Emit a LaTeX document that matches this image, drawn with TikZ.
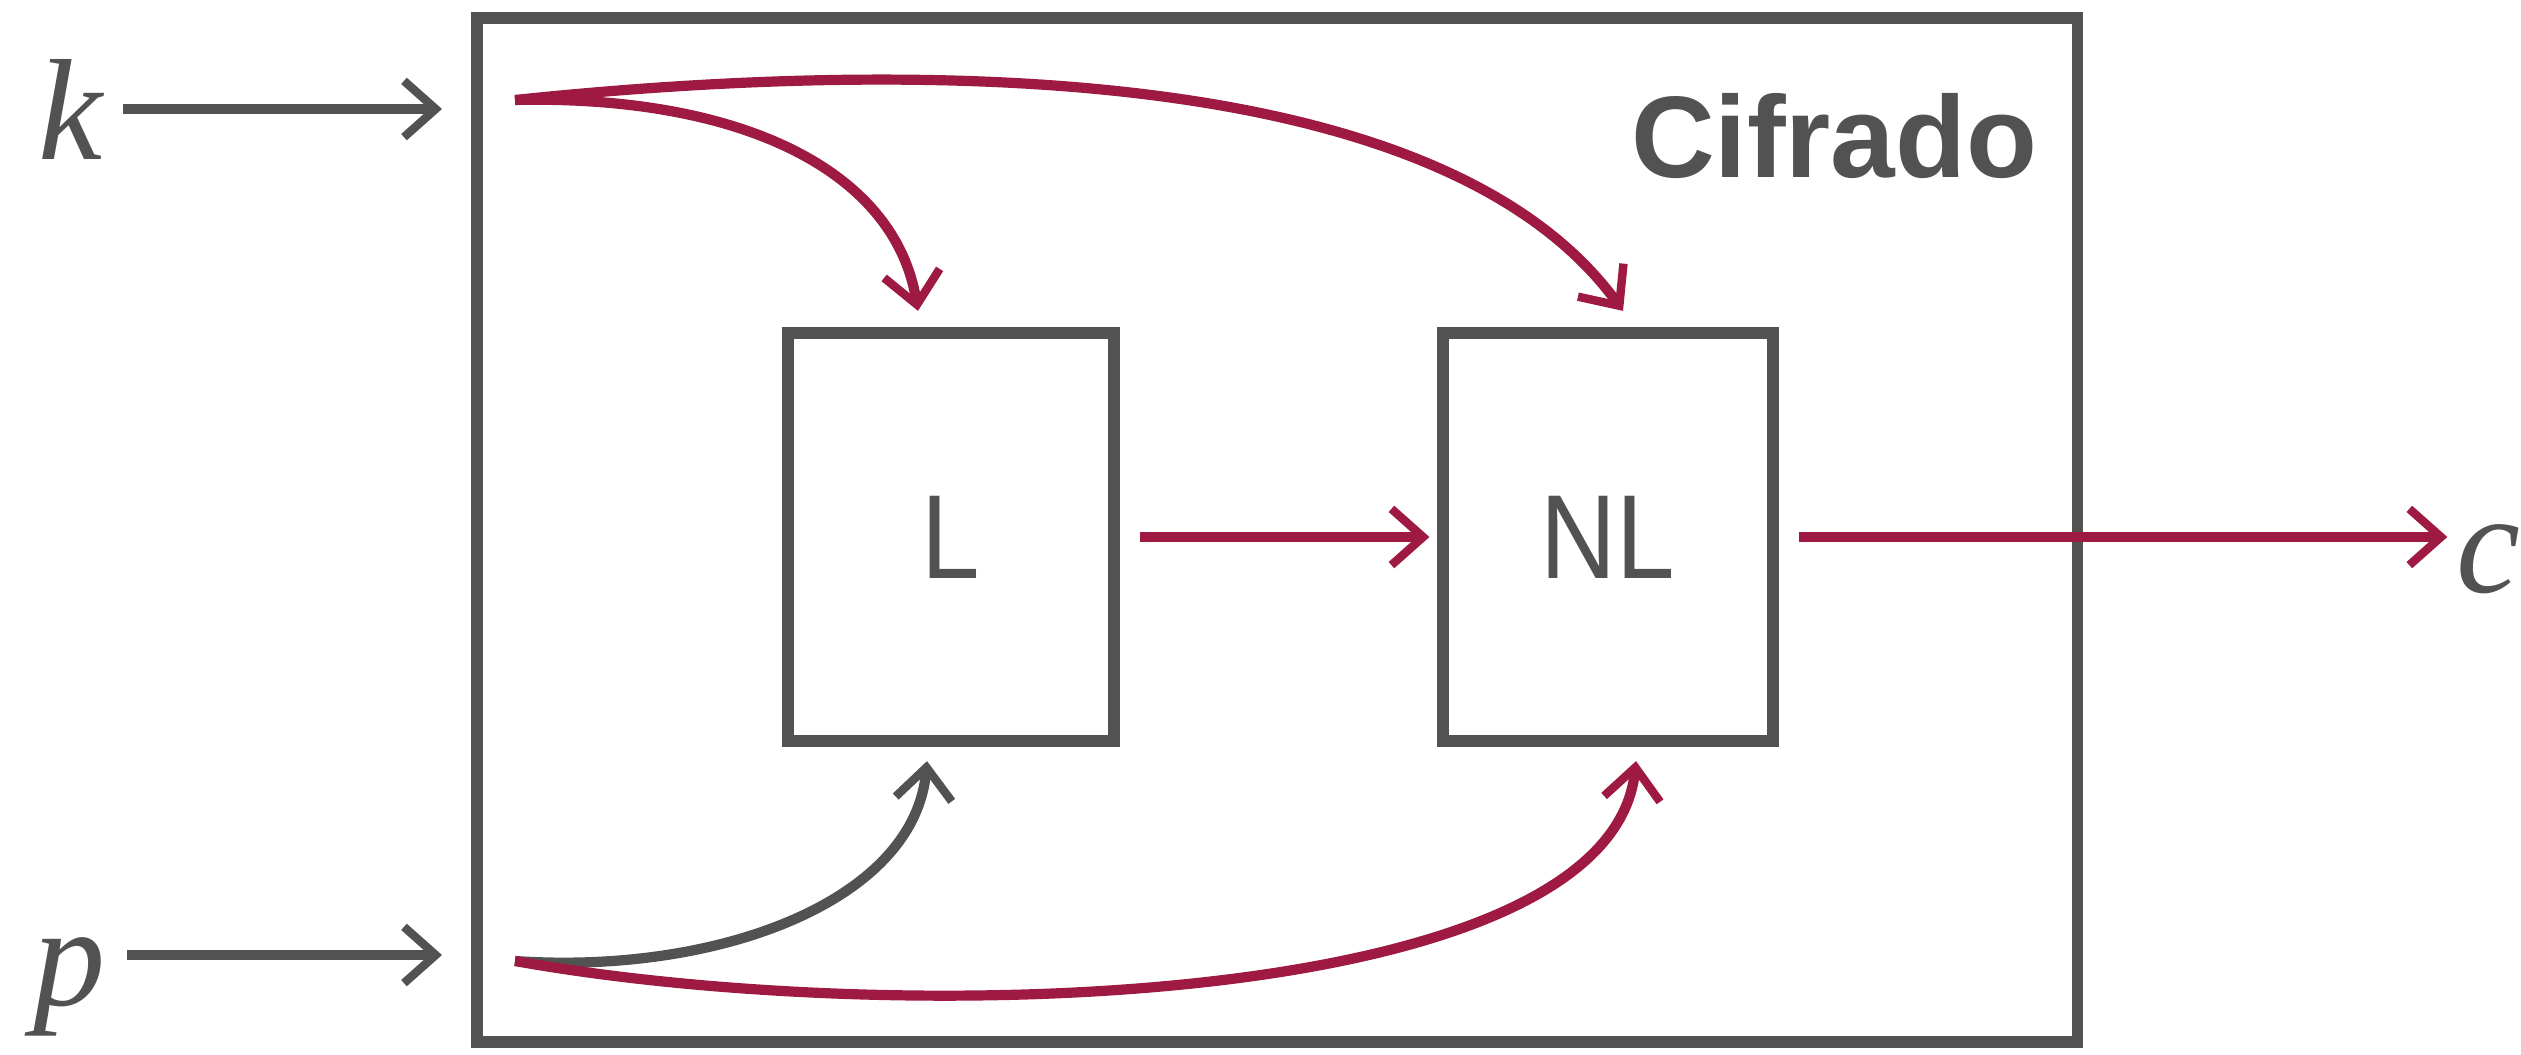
\documentclass[tikz,border=0pt]{standalone}
\usepackage{fontspec}
\setsansfont{Liberation Sans}
\newfontfamily\boxfont[FakeStretch=0.88]{Liberation Sans}
\newfontfamily\varfont{Liberation Serif}
\usetikzlibrary{arrows.meta}
\definecolor{dg}{RGB}{82,82,82}
\definecolor{rd}{RGB}{158,26,66}
\begin{document}
\begin{tikzpicture}[x=0.01cm,y=-0.01cm,
  box/.style={draw=dg,line width=3.4pt,inner sep=0pt,text=dg,font=\boxfont\fontsize{34}{34}\selectfont},
  var/.style={text=dg,inner sep=0pt,font=\varfont\itshape\fontsize{41}{41}\selectfont},
  tipb/.style={-{Straight Barb[length=9pt,width=16pt,line width=2.4pt]}},
  garrow/.style={tipb,draw=dg,line width=2.9pt},
  rarrow/.style={tipb,draw=rd,line width=2.9pt}]
\useasboundingbox (0,0) rectangle (2521,1055);
% boxes
\node[box,minimum width=16cm,minimum height=10.23cm] (enc) at (1277,530) {};
\node[box,minimum width=3.26cm,minimum height=4.08cm] (L) at (951,537) {L};
\node[box,minimum width=3.29cm,minimum height=4.08cm] (NL) at (1608,537) {NL};
\node[anchor=base east,inner sep=0pt,text=dg,font=\sffamily\bfseries\fontsize{33}{33}\selectfont] (title) at (2038,178) {Cifrado};
% variables
\node[var,anchor=base] (k) at (70,160) {k};
\node[var,anchor=base] (p) at (70,1005) {p};
\node[var,anchor=base] (c) at (2488,592) {c};
% coordinates
\coordinate (kend) at (442,109);
\coordinate (pend) at (442,955);
\coordinate (kin) at (515,100);
\coordinate (pin) at (515,961);
% input arrows
\draw[garrow] ([xshift=0.53cm]k.center |- kend) -- (kend);
\draw[garrow] ([xshift=0.57cm]p.center |- pend) -- (pend);
% key arrows
\draw[rarrow] (kin) .. controls (740,95) and (895,170) .. ([xshift=-0.33cm,yshift=0.16cm]L.north);
\draw[rarrow] (kin) .. controls (850,65) and (1430,45) .. ([xshift=0.15cm,yshift=0.16cm]NL.north);
% plaintext arrows
\draw[garrow] (pin) .. controls (720,975) and (915,900) .. ([xshift=-0.24cm,yshift=-0.14cm]L.south);
\draw[rarrow] (pin) .. controls (900,1030) and (1610,1010) .. ([xshift=0.28cm,yshift=-0.14cm]NL.south);
% middle
\draw[rarrow] ([xshift=0.2cm]L.east) -- ([xshift=-0.08cm]NL.west);
\draw[rarrow] ([xshift=0.2cm]NL.east) -- ([xshift=-0.08cm]c.west |- NL.east);
\end{tikzpicture}
\end{document}
